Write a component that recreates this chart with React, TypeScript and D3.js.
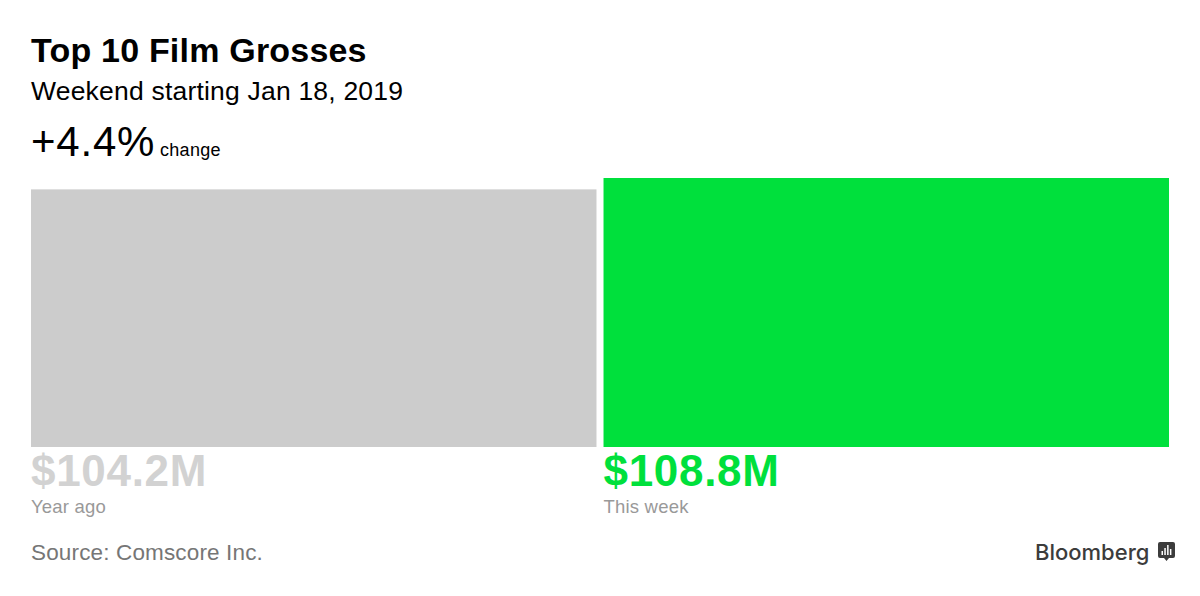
import React from 'react';
import * as d3 from 'd3';

const WIDTH = 1200;
const HEIGHT = 596;

const periods = ['Year ago', 'This week'];
const grosses = [104.2, 108.8];
const grossLabels = ['$104.2M', '$108.8M'];
const barColors = ['#cccccc', '#00e03c'];
const labelColors = ['#d2d2d2', '#00e03c'];
const logoBars = [4, 7, 10, 6];

const FONT = '"Liberation Sans", Arial, sans-serif';

export default function App(): JSX.Element {
  const x = d3.scaleBand().domain(periods).range([31, 1169]).paddingInner(0.0123).paddingOuter(0);
  const y = d3.scaleLinear().domain([0, 108.8]).range([447, 178]);

  return (
    <svg
      width={WIDTH}
      height={HEIGHT}
      style={{ position: 'absolute', left: 0, top: 0, background: '#fff' }}
      fontFamily={FONT}
    >
      <text x={31} y={62} fontSize={34} fontWeight={700} letterSpacing={0.2} fill="#000">
        Top 10 Film Grosses
      </text>
      <text x={31} y={100} fontSize={26.5} letterSpacing={0.2} fill="#000">
        Weekend starting Jan 18, 2019
      </text>
      <text x={31} y={156} fontSize={42} letterSpacing={0.8} fill="#000">
        +4.4%
      </text>
      <text x={160} y={156} fontSize={18} letterSpacing={0.3} fill="#000">
        change
      </text>

      {periods.map((p, i) => (
        <g key={p}>
          <rect
            x={x(p) as number}
            y={y(grosses[i])}
            width={x.bandwidth()}
            height={y(0) - y(grosses[i])}
            fill={barColors[i]}
          />
          <text x={x(p) as number} y={486} fontSize={44} fontWeight={700} letterSpacing={0.7} fill={labelColors[i]}>
            {grossLabels[i]}
          </text>
          <text x={x(p) as number} y={513} fontSize={18.5} letterSpacing={0.2} fill="#999999">
            {p}
          </text>
        </g>
      ))}

      <text x={31} y={560} fontSize={22.5} letterSpacing={0.15} fill="#767676">
        Source: Comscore Inc.
      </text>

      <text x={1035} y={560} fontSize={22} fontWeight={500} fontFamily="Inter, sans-serif" fill="#3c3c3c">
        Bloomberg
      </text>
      <g transform="translate(1158, 542)">
        <path d="M2 0H15a2 2 0 0 1 2 2V14a2 2 0 0 1 -2 2H11L8.5 19L6 16H2a2 2 0 0 1 -2 -2V2a2 2 0 0 1 2 -2Z" fill="#3c3c3c" />
        {logoBars.map((h, i) => (
          <rect key={i} x={3.5 + i * 2.8} y={13 - h} width={1.5} height={h} fill="#fff" />
        ))}
      </g>
    </svg>
  );
}
